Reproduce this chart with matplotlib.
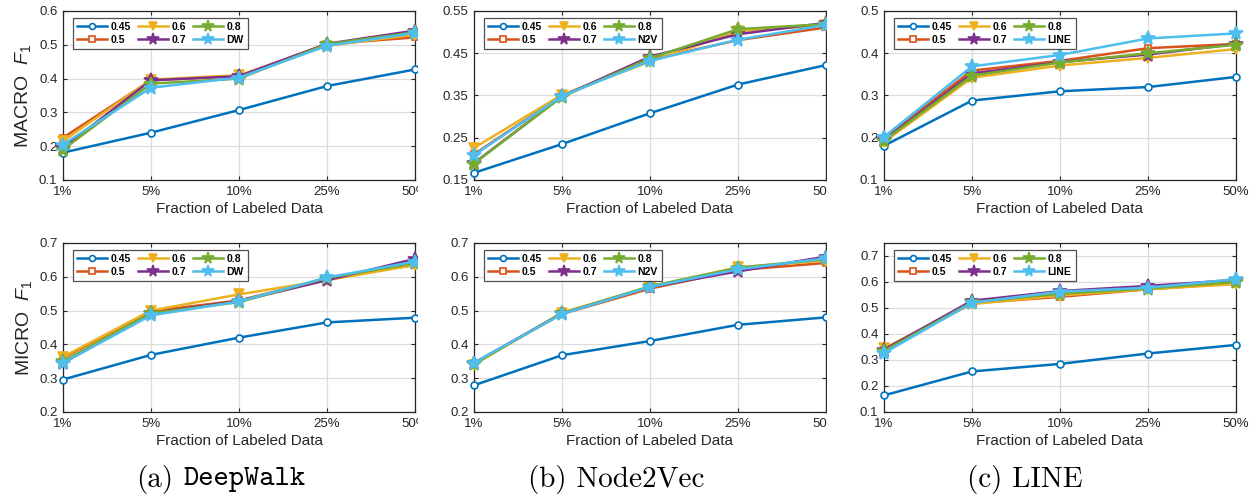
import matplotlib
matplotlib.use("Agg")
from matplotlib import pyplot as plt
from matplotlib.patches import Rectangle
from matplotlib.ticker import FormatStrFormatter

plt.rcParams['font.family'] = ['Liberation Sans', 'DejaVu Sans']
plt.rcParams['mathtext.fontset'] = 'custom'
plt.rcParams['mathtext.rm'] = 'Liberation Sans'
plt.rcParams['mathtext.it'] = 'Liberation Sans:italic'

fractions = ['1%', '5%', '10%', '25%', '50%']
series = ['0.45', '0.5', '0.6', '0.7', '0.8']

# macro F1, one list per series (last one is the baseline)
dw_macro = [
    [0.181, 0.240, 0.307, 0.378, 0.427],
    [0.225, 0.395, 0.408, 0.502, 0.522],
    [0.215, 0.397, 0.410, 0.497, 0.530],
    [0.195, 0.395, 0.407, 0.503, 0.542],
    [0.190, 0.385, 0.400, 0.502, 0.537],
    [0.205, 0.373, 0.403, 0.497, 0.535],
]
n2v_macro = [
    [0.167, 0.235, 0.308, 0.376, 0.422],
    [0.211, 0.350, 0.435, 0.481, 0.511],
    [0.226, 0.352, 0.430, 0.502, 0.517],
    [0.190, 0.348, 0.442, 0.495, 0.522],
    [0.189, 0.347, 0.438, 0.507, 0.519],
    [0.209, 0.349, 0.432, 0.482, 0.517],
]
line_macro = [
    [0.181, 0.288, 0.310, 0.320, 0.344],
    [0.200, 0.359, 0.382, 0.412, 0.422],
    [0.190, 0.342, 0.371, 0.389, 0.410],
    [0.195, 0.352, 0.379, 0.397, 0.422],
    [0.193, 0.347, 0.378, 0.400, 0.420],
    [0.202, 0.369, 0.396, 0.435, 0.447],
]
# micro F1
dw_micro = [
    [0.296, 0.369, 0.420, 0.465, 0.479],
    [0.360, 0.498, 0.530, 0.595, 0.635],
    [0.363, 0.500, 0.548, 0.590, 0.635],
    [0.345, 0.492, 0.528, 0.590, 0.653],
    [0.350, 0.492, 0.525, 0.597, 0.640],
    [0.345, 0.486, 0.527, 0.598, 0.645],
]
n2v_micro = [
    [0.279, 0.368, 0.410, 0.458, 0.480],
    [0.345, 0.490, 0.565, 0.620, 0.641],
    [0.340, 0.494, 0.570, 0.628, 0.648],
    [0.345, 0.492, 0.570, 0.616, 0.660],
    [0.342, 0.492, 0.572, 0.627, 0.652],
    [0.346, 0.490, 0.570, 0.622, 0.655],
]
line_micro = [
    [0.164, 0.256, 0.285, 0.325, 0.358],
    [0.342, 0.518, 0.543, 0.572, 0.595],
    [0.345, 0.515, 0.548, 0.572, 0.592],
    [0.340, 0.528, 0.565, 0.585, 0.608],
    [0.335, 0.522, 0.555, 0.575, 0.600],
    [0.327, 0.520, 0.563, 0.578, 0.611],
]

baselines = ['DW', 'N2V', 'LINE']

colors = ['#0072BD', '#D95319', '#EDB120', '#7E2F8E', '#77AC30', '#4DBEEE']
markers = ['o', 's', 'v', '*', '*', '*']

W, H = 1255, 501
fig = plt.figure(figsize=(W / 100, H / 100), dpi=100)

lefts = [63, 474, 884]
tops = [11, 243]
aw, ah = 352, 169

panels = [
    (0, 0, dw_macro, (0.1, 0.6), [0.1, 0.2, 0.3, 0.4, 0.5, 0.6]),
    (0, 1, n2v_macro, (0.15, 0.55), [0.15, 0.25, 0.35, 0.45, 0.55]),
    (0, 2, line_macro, (0.1, 0.5), [0.1, 0.2, 0.3, 0.4, 0.5]),
    (1, 0, dw_micro, (0.2, 0.7), [0.2, 0.3, 0.4, 0.5, 0.6, 0.7]),
    (1, 1, n2v_micro, (0.2, 0.7), [0.2, 0.3, 0.4, 0.5, 0.6, 0.7]),
    (1, 2, line_micro, (0.1, 0.75), [0.1, 0.2, 0.3, 0.4, 0.5, 0.6, 0.7]),
]

x = list(range(len(fractions)))
for row, col, data, ylim, yticks in panels:
    ax = fig.add_axes([lefts[col] / W, 1 - (tops[row] + ah) / H, aw / W, ah / H])
    names = series + [baselines[col]]
    for i, vals in enumerate(data):
        face = 'white' if markers[i] in ('o', 's') else colors[i]
        ms = 5 if markers[i] in ('o', 's') else (6.5 if markers[i] == 'v' else 10)
        ax.plot(x, vals, color=colors[i], marker=markers[i], markersize=ms,
                markerfacecolor=face, markeredgecolor=colors[i], markeredgewidth=1.2,
                linewidth=1.8, label=names[i], clip_on=False, zorder=3)
    ax.set_xlim(0, 4)
    ax.set_ylim(*ylim)
    ax.set_xticks(x)
    ax.set_xticklabels(fractions)
    ax.set_yticks(yticks)
    ax.yaxis.set_major_formatter(FormatStrFormatter('%g'))
    ax.grid(True, color='#dcdcdc', linewidth=0.9)
    ax.set_axisbelow(True)
    ax.tick_params(direction='in', top=True, right=True, length=3,
                   labelsize=9.5, colors='#262626', pad=4)
    for s in ax.spines.values():
        s.set_color('#262626')
        s.set_linewidth(0.9)
    ax.set_xlabel('Fraction of Labeled Data', fontsize=11, color='#262626', labelpad=3)
    if col == 0:
        ax.set_ylabel(('MACRO' if row == 0 else 'MICRO') + r'  $F_1$',
                      fontsize=14, color='#262626', labelpad=4)
    leg = ax.legend(loc='upper left', ncol=3, prop={'weight': 'bold', 'size': 7.5},
                    frameon=True, fancybox=False, handlelength=2.9, columnspacing=0.7,
                    handletextpad=0.3, borderpad=0.4, labelspacing=0.3,
                    bbox_to_anchor=(0.028, 0.96), borderaxespad=0, markerscale=0.85)
    leg.get_frame().set_edgecolor('#262626')
    leg.get_frame().set_linewidth(0.9)

# the first two subfigures are cut at their right edge
for xl, xr in [(418, 436), (827, 850)]:
    fig.patches.append(Rectangle((xl / W, 0), (xr - xl) / W, 1, transform=fig.transFigure,
                                 facecolor='white', edgecolor='none', zorder=10))

# captions under each column
cy = 1 - 479 / H
fig.text(173 / W, cy, '(a)', ha='right', va='center', family='cmr10', fontsize=21)
fig.text(183 / W, cy, 'DeepWalk', ha='left', va='center', family='cmtt10', fontsize=21)
fig.text(616 / W, cy, '(b) Node2Vec', ha='center', va='center', family='cmr10', fontsize=21)
fig.text(1025 / W, cy, '(c) LINE', ha='center', va='center', family='cmr10', fontsize=21)

fig.savefig('out.png', dpi=100)
